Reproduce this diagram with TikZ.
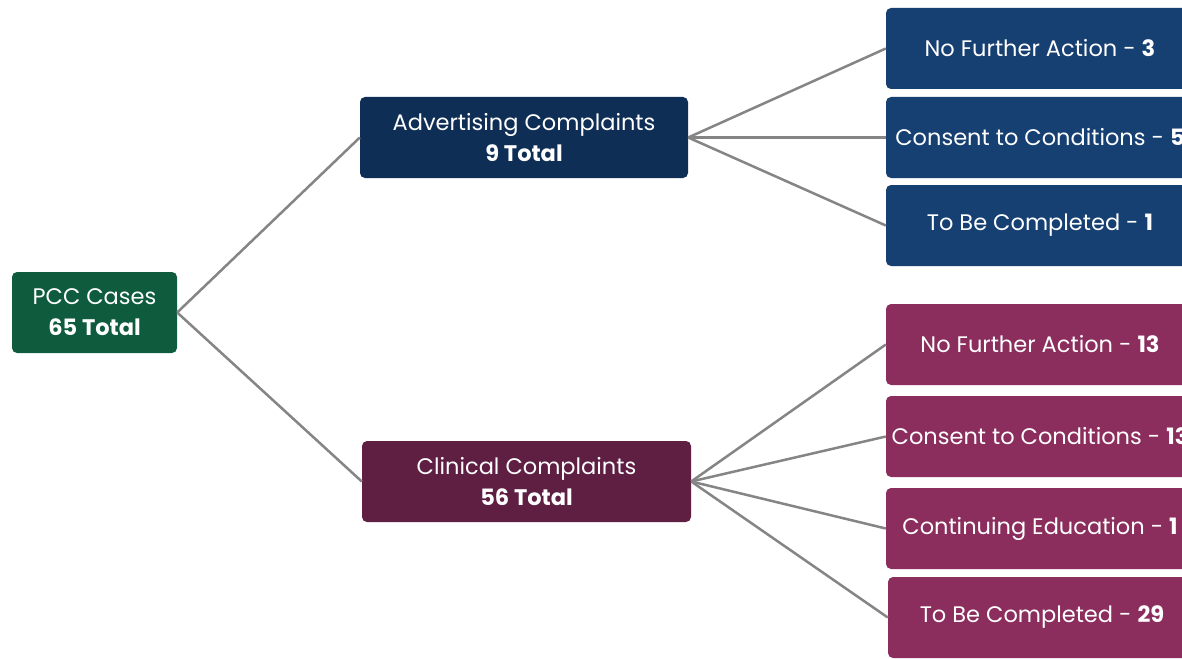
\documentclass[tikz,border=0pt]{standalone}
\usepackage{fontspec}
\setmainfont{Poppins}

\definecolor{pccgreen}{HTML}{0E5B3E}
\definecolor{advnavy}{HTML}{0F2E55}
\definecolor{clinplum}{HTML}{5E1F43}
\definecolor{outblue}{HTML}{163F72}
\definecolor{outplum}{HTML}{8B2E5E}
\definecolor{linkgray}{HTML}{858585}

\tikzset{
    box/.style={rounded corners=5pt, text=white, align=center, inner sep=0pt,
        minimum height=81pt, font=\fontsize{22.5}{31}\selectfont},
    link/.style={draw=linkgray, line width=2.5pt}
}

\begin{document}
\begin{tikzpicture}[x=1pt, y=-1pt]
    \clip (0,0) rectangle (1182,658);
    \fill[white] (0,0) rectangle (1182,658);

    % Root and categories
    \node[box, fill=pccgreen, minimum width=165pt] (pcc) at (94.5,312.5) {PCC Cases\\\textbf{65 Total}};
    \node[box, fill=advnavy, minimum width=328pt] (adv) at (524,137.5) {Advertising Complaints\\\textbf{9 Total}};
    \node[box, fill=clinplum, minimum width=329pt] (clin) at (526.5,481.5) {Clinical Complaints\\\textbf{56 Total}};

    % Advertising outcomes
    \node[box, fill=outblue, minimum width=308pt] (advnfa) at (1040,48.5) {No Further Action - \textbf{3}};
    \node[box, fill=outblue, minimum width=308pt] (advctc) at (1040,137.5) {Consent to Conditions - \textbf{5}};
    \node[box, fill=outblue, minimum width=308pt] (advtbc) at (1040,225.5) {To Be Completed - \textbf{1}};

    % Clinical outcomes
    \node[box, fill=outplum, minimum width=308pt] (clinnfa) at (1040,344.5) {No Further Action - \textbf{13}};
    \node[box, fill=outplum, minimum width=308pt] (clinctc) at (1040,436.5) {Consent to Conditions - \textbf{13}};
    \node[box, fill=outplum, minimum width=308pt] (clince) at (1040,528.5) {Continuing Education - \textbf{1}};
    \node[box, fill=outplum, minimum width=308pt] (clintbc) at (1042,617.5) {To Be Completed - \textbf{29}};

    % Links
    \draw[link] (pcc.east) -- (adv.west);
    \draw[link] (pcc.east) -- (clin.west);
    \foreach \t in {advnfa,advctc,advtbc}
        \draw[link] (adv.east) -- (\t.west);
    \foreach \t in {clinnfa,clinctc,clince,clintbc}
        \draw[link] (clin.east) -- (\t.west);
\end{tikzpicture}
\end{document}
